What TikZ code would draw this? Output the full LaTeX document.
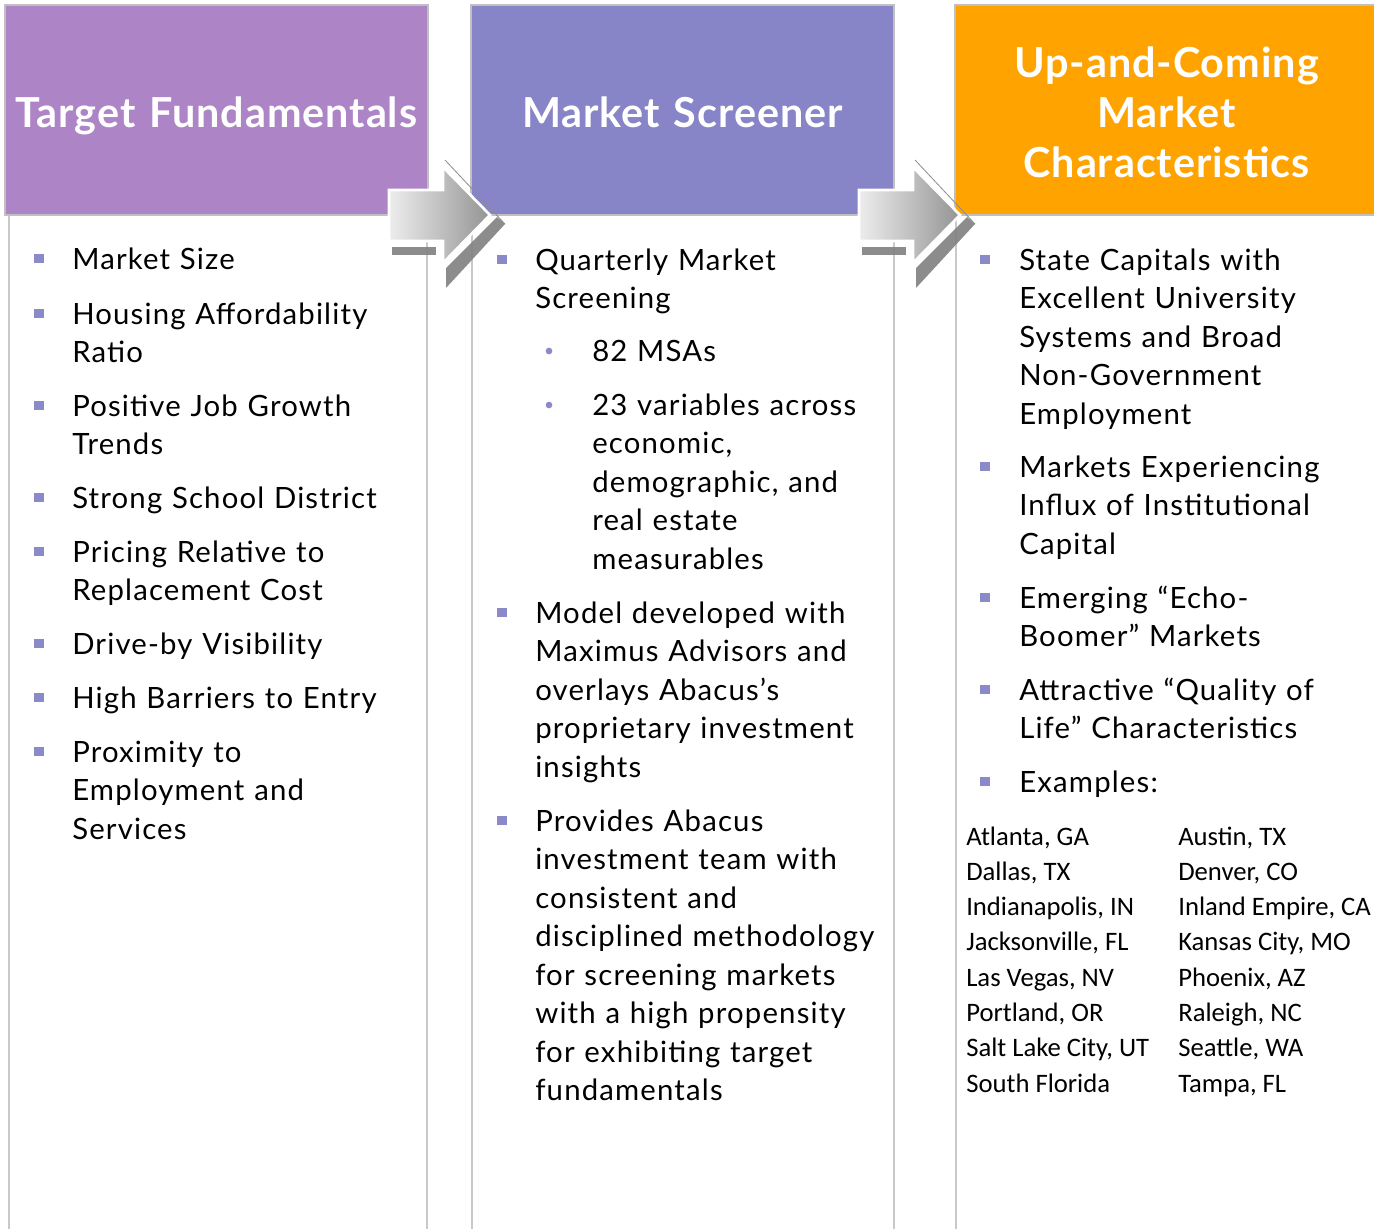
\documentclass[tikz,border=0pt]{standalone}
\usepackage{fontspec}
\setmainfont{Lato}[LetterSpace=4]
\newfontfamily\titlefont{Lato}[LetterSpace=2.3]
\newfontfamily\cityfont{Carlito}
\usepackage{tikz}
\usetikzlibrary{calc}

\definecolor{tfpurple}{HTML}{AD84C6}
\definecolor{msblue}{HTML}{8784C7}
\definecolor{ucorange}{HTML}{FFA300}
\definecolor{bulletblue}{HTML}{8A8ACB}
\definecolor{framegray}{HTML}{C0C0C0}

\tikzset{
  hdr/.style={draw=framegray, line width=1.9pt,
    minimum width=317.25pt, minimum height=157.5pt, inner sep=0pt},
  hdrtext/.style={anchor=base, text=white, align=center, text width=317pt, inner sep=0pt,
    font=\titlefont\fontsize{31}{37.5}\selectfont\bfseries},
  item/.style={anchor=base west, align=left, inner sep=0pt, text width=330pt,
    font=\fontsize{22}{28.875}\selectfont},
  sqbullet/.style={fill=bulletblue, minimum width=7.5pt, minimum height=6.75pt, inner sep=0pt},
  dotbullet/.style={circle, fill=bulletblue, minimum size=5pt, inner sep=0pt},
  city/.style={anchor=base west, inner sep=0pt, font=\cityfont\fontsize{20}{26.5}\selectfont},
  colline/.style={draw=framegray!85, line width=1.5pt},
}

\begin{document}
\begin{tikzpicture}[x=0.75pt, y=-0.75pt]

\path[use as bounding box, clip] (0,0) rectangle (1374,1229);

% -------------------------------------------------------
% 1. Column frames (left and right rules below the headers)
% -------------------------------------------------------
\foreach \xa/\xb in {9/427, 472/894} {
  \draw[colline] (\xa,215) -- (\xa,1229);
  \draw[colline] (\xb,215) -- (\xb,1229);
}
\draw[colline] (956,215) -- (956,1229);

% -------------------------------------------------------
% 2. Headers
% -------------------------------------------------------
\node[hdr, fill=tfpurple] (tfhead) at (216.5,110) {};
\node[hdr, fill=msblue] (mshead) at (682.5,110) {};
\node[hdr, fill=ucorange] (uchead) at (1166.5,110) {};

\node[hdrtext] (tftitle) at (216.5,127) {Target Fundamentals};
\node[hdrtext] (mstitle) at (682.5,127) {Market Screener};
\node[hdrtext] (uctitle) at (1166.5,77) {Up-and-Coming\\Market\\Characteristics};

% -------------------------------------------------------
% 3. Block arrows between the columns
% -------------------------------------------------------
\foreach \dx in {0,470} {
  \begin{scope}[shift={(\dx,0)}]
    % drop shadow under the shaft and the lower edge of the head
    \fill[black!50, opacity=0.9] (392,247) rectangle (436,255);
    \fill[black!50, opacity=0.9] (446,268) -- (497,217) -- (505,224) -- (446,288) -- cycle;
    \draw[black!45, line width=0.6pt] (445,160) -- (505,224);
    % shaded arrow with a white rim
    \draw[white, line width=2pt, left color=black!7, right color=black!42]
      (389,190) -- (443,190) -- (443,167) -- (490,215) -- (443,263)
      -- (443,241) -- (389,241) -- cycle;
  \end{scope}
}

% -------------------------------------------------------
% 4. Target fundamentals
% -------------------------------------------------------
\foreach \y/\txt [count=\i] in {
    269/{Market Size},
    324/{Housing Affordability\\Ratio},
    416/{Positive Job Growth\\Trends},
    508/{Strong School District},
    562/{Pricing Relative to\\Replacement Cost},
    654/{Drive-by Visibility},
    708/{High Barriers to Entry},
    762/{Proximity to\\Employment and\\Services}} {
  \node[sqbullet] (tfb\i) at (39,\y-10.5) {};
  \node[item] (tf\i) at (72,\y) {\txt};
}

% -------------------------------------------------------
% 5. Market screener
% -------------------------------------------------------
\foreach \y/\txt [count=\i] in {
    270/{Quarterly Market\\Screening},
    623/{Model developed with\\Maximus Advisors and\\overlays Abacus’s\\proprietary investment\\insights},
    831/{Provides Abacus\\investment team with\\consistent and\\disciplined methodology\\for screening markets\\with a high propensity\\for exhibiting target\\fundamentals}} {
  \node[sqbullet] (msb\i) at (502,\y-11) {};
  \node[item] (ms\i) at (535,\y) {\txt};
}
% sub-points of the quarterly screening
\foreach \y/\txt [count=\i] in {
    361/{82 MSAs},
    415/{23 variables across\\economic,\\demographic, and\\real estate\\measurables}} {
  \node[dotbullet] (msd\i) at (549,\y-10) {};
  \node[item] (mss\i) at (592,\y) {\txt};
}

% -------------------------------------------------------
% 6. Up-and-coming market characteristics
% -------------------------------------------------------
\foreach \y/\txt [count=\i] in {
    270/{State Capitals with\\Excellent University\\Systems and Broad\\Non-Government\\Employment},
    477/{Markets Experiencing\\Influx of Institutional\\Capital},
    608/{Emerging “Echo-\\Boomer” Markets},
    700/{Attractive “Quality of\\Life” Characteristics},
    792/{Examples:}} {
  \node[sqbullet] (ucb\i) at (985,\y-11) {};
  \node[item] (uc\i) at (1019,\y) {\txt};
}

% example markets, two columns
\foreach \ca/\cb [count=\i] in {
    {Atlanta, GA}/{Austin, TX},
    {Dallas, TX}/{Denver, CO},
    {Indianapolis, IN}/{Inland Empire, CA},
    {Jacksonville, FL}/{Kansas City, MO},
    {Las Vegas, NV}/{Phoenix, AZ},
    {Portland, OR}/{Raleigh, NC},
    {Salt Lake City, UT}/{Seattle, WA},
    {South Florida}/{Tampa, FL}} {
  \node[city] (cityA\i) at (966,{845+35.3*(\i-1)}) {\ca};
  \node[city] (cityB\i) at (1178,{845+35.3*(\i-1)}) {\cb};
}

\end{tikzpicture}
\end{document}
